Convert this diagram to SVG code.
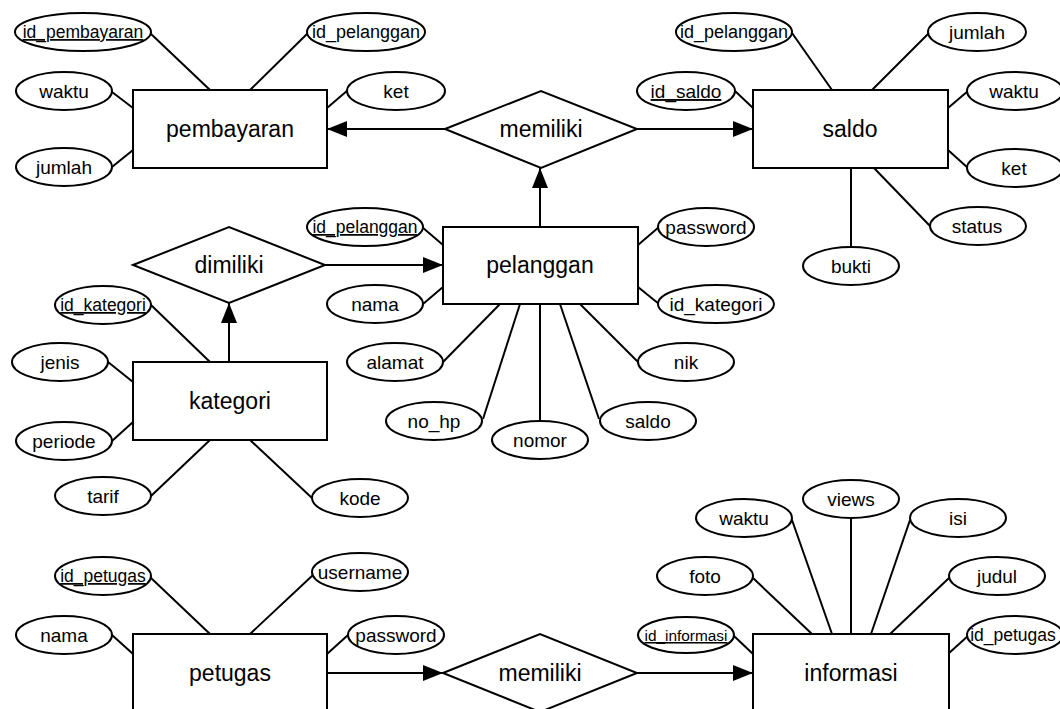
<svg xmlns="http://www.w3.org/2000/svg" width="1060" height="709" viewBox="0 0 1060 709">
  <style>
    .box { fill: #fff; stroke: #000; stroke-width: 2; }
    .attr { fill: #fff; stroke: #000; stroke-width: 2; }
    .link { stroke: #000; stroke-width: 2; fill: none; }
    .rel { stroke: #000; stroke-width: 2; fill: none; }
    text { font-family: "Liberation Sans", Arial, sans-serif; fill: #000; text-anchor: middle; }
    .ent { font-size: 23px; }
    .at { font-size: 19px; }
    .key { text-decoration: underline; }
  </style>
  <defs>
    <marker id="arrow" markerUnits="userSpaceOnUse" markerWidth="20" markerHeight="16" refX="20" refY="8" orient="auto">
      <path d="M0,0 L20,8 L0,16 Z" fill="#000"/>
    </marker>
  </defs>
  <rect width="1060" height="709" fill="#fff"/>

  <!-- connectors -->
  <g id="connectors">
    <!-- relationships -->
    <line class="rel" x1="445" y1="129" x2="327" y2="129" marker-end="url(#arrow)"/>
    <line class="rel" x1="637" y1="129" x2="753" y2="129" marker-end="url(#arrow)"/>
    <line class="rel" x1="540" y1="227" x2="540" y2="168" marker-end="url(#arrow)"/>
    <line class="rel" x1="325" y1="265" x2="443" y2="265" marker-end="url(#arrow)"/>
    <line class="rel" x1="229" y1="362" x2="229" y2="303" marker-end="url(#arrow)"/>
    <line class="rel" x1="327" y1="673" x2="443" y2="673" marker-end="url(#arrow)"/>
    <line class="rel" x1="637" y1="673" x2="753" y2="673" marker-end="url(#arrow)"/>

    <!-- pembayaran attributes -->
    <line class="link" x1="150" y1="33" x2="210" y2="90"/>
    <line class="link" x1="308" y1="33" x2="250" y2="90"/>
    <line class="link" x1="112" y1="92" x2="133" y2="108"/>
    <line class="link" x1="112" y1="167" x2="133" y2="150"/>
    <line class="link" x1="348" y1="90" x2="327" y2="108"/>

    <!-- saldo attributes -->
    <line class="link" x1="792" y1="33" x2="832" y2="90"/>
    <line class="link" x1="929" y1="33" x2="872" y2="90"/>
    <line class="link" x1="735" y1="91" x2="753" y2="108"/>
    <line class="link" x1="968" y1="91" x2="948" y2="108"/>
    <line class="link" x1="968" y1="168" x2="948" y2="150"/>
    <line class="link" x1="874" y1="168" x2="930" y2="226"/>
    <line class="link" x1="851" y1="168" x2="851" y2="247"/>

    <!-- pelanggan attributes -->
    <line class="link" x1="422" y1="227" x2="443" y2="245"/>
    <line class="link" x1="423" y1="304" x2="443" y2="287"/>
    <line class="link" x1="659" y1="227" x2="638" y2="245"/>
    <line class="link" x1="659" y1="304" x2="638" y2="287"/>
    <line class="link" x1="443" y1="362" x2="500" y2="304"/>
    <line class="link" x1="483" y1="419" x2="520" y2="304"/>
    <line class="link" x1="540" y1="304" x2="540" y2="421"/>
    <line class="link" x1="560" y1="304" x2="599" y2="419"/>
    <line class="link" x1="580" y1="304" x2="638" y2="362"/>

    <!-- kategori attributes -->
    <line class="link" x1="151" y1="305" x2="210" y2="362"/>
    <line class="link" x1="108" y1="362" x2="133" y2="382"/>
    <line class="link" x1="112" y1="441" x2="133" y2="422"/>
    <line class="link" x1="151" y1="496" x2="210" y2="440"/>
    <line class="link" x1="250" y1="440" x2="312" y2="498"/>

    <!-- petugas attributes -->
    <line class="link" x1="151" y1="578" x2="210" y2="634"/>
    <line class="link" x1="112" y1="635" x2="133" y2="654"/>
    <line class="link" x1="313" y1="575" x2="250" y2="634"/>
    <line class="link" x1="348" y1="635" x2="327" y2="654"/>

    <!-- informasi attributes -->
    <line class="link" x1="851" y1="518" x2="851" y2="634"/>
    <line class="link" x1="792" y1="520" x2="832" y2="634"/>
    <line class="link" x1="910" y1="520" x2="871" y2="634"/>
    <line class="link" x1="753" y1="578" x2="812" y2="634"/>
    <line class="link" x1="949" y1="578" x2="890" y2="634"/>
    <line class="link" x1="734" y1="636" x2="753" y2="654"/>
    <line class="link" x1="969" y1="635" x2="948" y2="654"/>
  </g>

  <!-- entities -->
  <g id="pembayaran">
    <rect class="box" x="133" y="90" width="194" height="78"/>
    <text class="ent" x="230" y="137">pembayaran</text>
  </g>
  <g id="saldo">
    <rect class="box" x="753" y="90" width="195" height="78"/>
    <text class="ent" x="850" y="137">saldo</text>
  </g>
  <g id="pelanggan">
    <rect class="box" x="443" y="227" width="195" height="77"/>
    <text class="ent" x="540" y="273">pelanggan</text>
  </g>
  <g id="kategori">
    <rect class="box" x="133" y="362" width="194" height="78"/>
    <text class="ent" x="230" y="409">kategori</text>
  </g>
  <g id="petugas">
    <rect class="box" x="133" y="634" width="194" height="90"/>
    <text class="ent" x="230" y="681">petugas</text>
  </g>
  <g id="informasi">
    <rect class="box" x="753" y="634" width="196" height="90"/>
    <text class="ent" x="851" y="681">informasi</text>
  </g>

  <!-- relationships -->
  <g id="memiliki-atas">
    <polygon class="box" points="445,129 541,91 637,129 541,168"/>
    <text class="ent" x="541" y="137">memiliki</text>
  </g>
  <g id="dimiliki">
    <polygon class="box" points="133,265 229,227 325,265 229,303"/>
    <text class="ent" x="229" y="273">dimiliki</text>
  </g>
  <g id="memiliki-bawah">
    <polygon class="box" points="443,673 540,634 637,673 540,712"/>
    <text class="ent" x="540" y="681">memiliki</text>
  </g>

  <!-- pembayaran attributes -->
  <g id="pembayaran-id_pembayaran">
    <ellipse class="attr" cx="83" cy="32" rx="68" ry="19"/>
    <text class="at key" x="83" y="38" style="font-size:17.5px">id_pembayaran</text>
  </g>
  <g id="pembayaran-id_pelanggan">
    <ellipse class="attr" cx="366" cy="32" rx="59" ry="19"/>
    <text class="at" x="366" y="38" style="font-size:18px">id_pelanggan</text>
  </g>
  <g id="pembayaran-waktu">
    <ellipse class="attr" cx="64" cy="91" rx="48" ry="19"/>
    <text class="at" x="64" y="98">waktu</text>
  </g>
  <g id="pembayaran-jumlah">
    <ellipse class="attr" cx="64" cy="167" rx="48" ry="19"/>
    <text class="at" x="64" y="174">jumlah</text>
  </g>
  <g id="pembayaran-ket">
    <ellipse class="attr" cx="396" cy="91" rx="49" ry="19"/>
    <text class="at" x="396" y="98">ket</text>
  </g>

  <!-- saldo attributes -->
  <g id="saldo-id_pelanggan">
    <ellipse class="attr" cx="734" cy="32" rx="58" ry="19"/>
    <text class="at" x="734" y="38" style="font-size:18px">id_pelanggan</text>
  </g>
  <g id="saldo-jumlah">
    <ellipse class="attr" cx="977" cy="32" rx="49" ry="19"/>
    <text class="at" x="977" y="39">jumlah</text>
  </g>
  <g id="saldo-id_saldo">
    <ellipse class="attr" cx="686" cy="91" rx="49" ry="19"/>
    <text class="at key" x="686" y="98">id_saldo</text>
  </g>
  <g id="saldo-waktu">
    <ellipse class="attr" cx="1015" cy="91" rx="48" ry="19"/>
    <text class="at" x="1014" y="98">waktu</text>
  </g>
  <g id="saldo-ket">
    <ellipse class="attr" cx="1015" cy="168" rx="48" ry="19"/>
    <text class="at" x="1014" y="175">ket</text>
  </g>
  <g id="saldo-status">
    <ellipse class="attr" cx="978" cy="226" rx="48" ry="19"/>
    <text class="at" x="977" y="233">status</text>
  </g>
  <g id="saldo-bukti">
    <ellipse class="attr" cx="851" cy="266" rx="48" ry="19"/>
    <text class="at" x="851" y="273">bukti</text>
  </g>

  <!-- pelanggan attributes -->
  <g id="pelanggan-id_pelanggan">
    <ellipse class="attr" cx="365" cy="227" rx="58" ry="19"/>
    <text class="at key" x="365" y="233" style="font-size:17.5px">id_pelanggan</text>
  </g>
  <g id="pelanggan-nama">
    <ellipse class="attr" cx="375" cy="304" rx="48" ry="19"/>
    <text class="at" x="375" y="311">nama</text>
  </g>
  <g id="pelanggan-password">
    <ellipse class="attr" cx="706" cy="227" rx="48" ry="19"/>
    <text class="at" x="706" y="234">password</text>
  </g>
  <g id="pelanggan-id_kategori">
    <ellipse class="attr" cx="716" cy="304" rx="58" ry="19"/>
    <text class="at" x="716" y="311">id_kategori</text>
  </g>
  <g id="pelanggan-alamat">
    <ellipse class="attr" cx="395" cy="362" rx="48" ry="19"/>
    <text class="at" x="395" y="369">alamat</text>
  </g>
  <g id="pelanggan-no_hp">
    <ellipse class="attr" cx="434" cy="421" rx="48" ry="19"/>
    <text class="at" x="434" y="428">no_hp</text>
  </g>
  <g id="pelanggan-nomor">
    <ellipse class="attr" cx="540" cy="440" rx="48" ry="19"/>
    <text class="at" x="540" y="447">nomor</text>
  </g>
  <g id="pelanggan-saldo">
    <ellipse class="attr" cx="648" cy="421" rx="48" ry="19"/>
    <text class="at" x="648" y="428">saldo</text>
  </g>
  <g id="pelanggan-nik">
    <ellipse class="attr" cx="686" cy="362" rx="48" ry="19"/>
    <text class="at" x="686" y="369">nik</text>
  </g>

  <!-- kategori attributes -->
  <g id="kategori-id_kategori">
    <ellipse class="attr" cx="103" cy="305" rx="48" ry="19"/>
    <text class="at key" x="103" y="311" style="font-size:17.5px">id_kategori</text>
  </g>
  <g id="kategori-jenis">
    <ellipse class="attr" cx="60" cy="362" rx="48" ry="19"/>
    <text class="at" x="60" y="369">jenis</text>
  </g>
  <g id="kategori-periode">
    <ellipse class="attr" cx="64" cy="441" rx="48" ry="19"/>
    <text class="at" x="64" y="448">periode</text>
  </g>
  <g id="kategori-tarif">
    <ellipse class="attr" cx="103" cy="496" rx="48" ry="19"/>
    <text class="at" x="103" y="503">tarif</text>
  </g>
  <g id="kategori-kode">
    <ellipse class="attr" cx="360" cy="498" rx="48" ry="19"/>
    <text class="at" x="360" y="505">kode</text>
  </g>

  <!-- petugas attributes -->
  <g id="petugas-id_petugas">
    <ellipse class="attr" cx="103" cy="576" rx="48" ry="19"/>
    <text class="at key" x="103" y="582" style="font-size:17.5px">id_petugas</text>
  </g>
  <g id="petugas-nama">
    <ellipse class="attr" cx="64" cy="635" rx="48" ry="19"/>
    <text class="at" x="64" y="642">nama</text>
  </g>
  <g id="petugas-username">
    <ellipse class="attr" cx="360" cy="572" rx="48" ry="19"/>
    <text class="at" x="360" y="579">username</text>
  </g>
  <g id="petugas-password">
    <ellipse class="attr" cx="396" cy="635" rx="48" ry="19"/>
    <text class="at" x="396" y="642">password</text>
  </g>

  <!-- informasi attributes -->
  <g id="informasi-views">
    <ellipse class="attr" cx="851" cy="499" rx="48" ry="19"/>
    <text class="at" x="851" y="506">views</text>
  </g>
  <g id="informasi-waktu">
    <ellipse class="attr" cx="744" cy="518" rx="48" ry="19"/>
    <text class="at" x="744" y="525">waktu</text>
  </g>
  <g id="informasi-isi">
    <ellipse class="attr" cx="958" cy="518" rx="48" ry="19"/>
    <text class="at" x="958" y="525">isi</text>
  </g>
  <g id="informasi-foto">
    <ellipse class="attr" cx="705" cy="576" rx="48" ry="19"/>
    <text class="at" x="705" y="583">foto</text>
  </g>
  <g id="informasi-judul">
    <ellipse class="attr" cx="997" cy="576" rx="48" ry="19"/>
    <text class="at" x="997" y="583">judul</text>
  </g>
  <g id="informasi-id_informasi">
    <ellipse class="attr" cx="686" cy="635" rx="48" ry="18"/>
    <text class="at key" x="686" y="641" style="font-size:15.4px">id_informasi</text>
  </g>
  <g id="informasi-id_petugas">
    <ellipse class="attr" cx="1015" cy="635" rx="48" ry="19"/>
    <text class="at" x="1013" y="641" style="font-size:17.5px">id_petugas</text>
  </g>
</svg>
